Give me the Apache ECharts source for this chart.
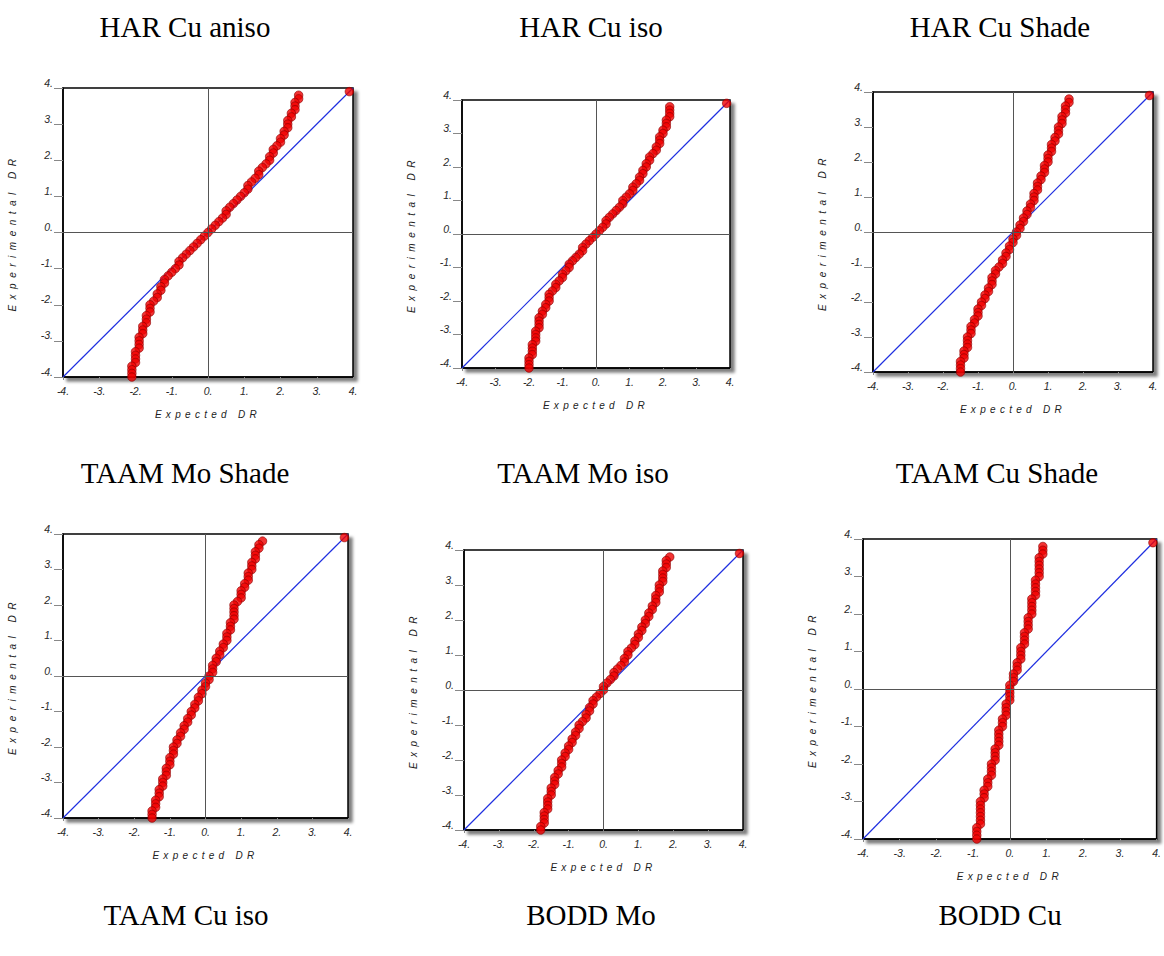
<!DOCTYPE html>
<html>
<head>
<meta charset="utf-8">
<script src="https://cdn.jsdelivr.net/npm/echarts@6/dist/echarts.min.js"></script>
<style>
  html, body { margin: 0; padding: 0; background: #fff; }
  #chart { width: 1164px; height: 956px; }
</style>
</head>
<body>
<div id="chart"></div>
<script>
// Normal probability plots: experimental vs expected DR, one panel per model.
const panelTitles = [
  'HAR Cu aniso', 'HAR Cu iso', 'HAR Cu Shade',
  'TAAM Mo Shade', 'TAAM Mo iso', 'TAAM Cu Shade',
  'TAAM Cu iso', 'BODD Mo', 'BODD Cu'
];

const axisTicks = [-4, -3, -2, -1, 0, 1, 2, 3, 4];
const xAxisName = 'Expected DR';
const yAxisName = 'Experimental DR';

// [expected, experimental]
const harCuAniso = [
  [2.5,3.8],[2.5,3.7],[2.4,3.6],[2.4,3.5],[2.4,3.4],[2.3,3.3],[2.3,3.2],[2.2,3.1],[2.2,3.0],[2.2,2.9],
  [2.1,2.8],[2.1,2.7],[2.0,2.6],[2.0,2.5],[1.9,2.4],[1.8,2.3],[1.8,2.2],[1.7,2.1],[1.7,2.0],[1.6,1.9],
  [1.5,1.8],[1.4,1.7],[1.4,1.6],[1.3,1.5],[1.2,1.4],[1.1,1.3],[1.1,1.2],[1.0,1.1],[0.9,1.0],[0.8,0.9],
  [0.7,0.8],[0.6,0.7],[0.5,0.6],[0.5,0.5],[0.4,0.4],[0.3,0.3],[0.2,0.2],[0.1,0.1],[0.0,0.0],[-0.1,-0.1],
  [-0.2,-0.2],[-0.3,-0.3],[-0.4,-0.4],[-0.5,-0.5],[-0.6,-0.6],[-0.7,-0.7],[-0.8,-0.8],[-0.8,-0.9],[-0.9,-1.0],[-1.0,-1.1],
  [-1.1,-1.2],[-1.2,-1.3],[-1.2,-1.4],[-1.3,-1.5],[-1.3,-1.6],[-1.4,-1.7],[-1.4,-1.8],[-1.5,-1.9],[-1.6,-2.0],[-1.6,-2.1],
  [-1.6,-2.2],[-1.7,-2.3],[-1.7,-2.4],[-1.7,-2.5],[-1.8,-2.6],[-1.8,-2.7],[-1.8,-2.8],[-1.9,-2.9],[-1.9,-3.0],[-1.9,-3.1],
  [-1.9,-3.2],[-2.0,-3.3],[-2.0,-3.4],[-2.0,-3.5],[-2.0,-3.6],[-2.1,-3.7],[-2.1,-3.8],[-2.1,-3.9],[-2.1,-4.0],
  [3.9,3.9]
];

const harCuIso = [
  [2.2,3.8],[2.2,3.7],[2.2,3.6],[2.2,3.5],[2.1,3.4],[2.1,3.3],[2.1,3.2],[2.0,3.1],[2.0,3.0],[1.9,2.9],
  [1.9,2.8],[1.9,2.7],[1.8,2.6],[1.8,2.5],[1.7,2.4],[1.6,2.3],[1.6,2.2],[1.5,2.1],[1.5,2.0],[1.4,1.9],
  [1.4,1.8],[1.3,1.7],[1.3,1.6],[1.2,1.5],[1.1,1.4],[1.1,1.3],[1.0,1.2],[0.9,1.1],[0.8,1.0],[0.8,0.9],
  [0.7,0.8],[0.6,0.7],[0.5,0.6],[0.4,0.5],[0.3,0.4],[0.3,0.3],[0.2,0.2],[0.1,0.1],[0.0,0.0],[-0.1,-0.1],
  [-0.2,-0.2],[-0.3,-0.3],[-0.4,-0.4],[-0.4,-0.5],[-0.5,-0.6],[-0.6,-0.7],[-0.7,-0.8],[-0.8,-0.9],[-0.8,-1.0],[-0.9,-1.1],
  [-1.0,-1.2],[-1.0,-1.3],[-1.1,-1.4],[-1.2,-1.5],[-1.2,-1.6],[-1.3,-1.7],[-1.4,-1.8],[-1.4,-1.9],[-1.4,-2.0],[-1.5,-2.1],
  [-1.5,-2.2],[-1.6,-2.3],[-1.6,-2.4],[-1.7,-2.5],[-1.7,-2.6],[-1.7,-2.7],[-1.7,-2.8],[-1.8,-2.9],[-1.8,-3.0],[-1.8,-3.1],
  [-1.8,-3.2],[-1.9,-3.3],[-1.9,-3.4],[-1.9,-3.5],[-1.9,-3.6],[-2.0,-3.7],[-2.0,-3.8],[-2.0,-3.9],[-2.0,-4.0],
  [3.9,3.9]
];

const harCuShade = [
  [1.6,3.8],[1.6,3.7],[1.5,3.6],[1.5,3.5],[1.5,3.4],[1.4,3.3],[1.4,3.2],[1.4,3.1],[1.3,3.0],[1.3,2.9],
  [1.3,2.8],[1.2,2.7],[1.2,2.6],[1.1,2.5],[1.1,2.4],[1.1,2.3],[1.0,2.2],[1.0,2.1],[1.0,2.0],[0.9,1.9],
  [0.9,1.8],[0.9,1.7],[0.8,1.6],[0.8,1.5],[0.7,1.4],[0.7,1.3],[0.7,1.2],[0.6,1.1],[0.6,1.0],[0.6,0.9],
  [0.5,0.8],[0.5,0.7],[0.4,0.6],[0.4,0.5],[0.3,0.4],[0.3,0.3],[0.2,0.2],[0.2,0.1],[0.1,0.0],[0.1,-0.1],
  [0.0,-0.2],[0.0,-0.3],[-0.1,-0.4],[-0.1,-0.5],[-0.2,-0.6],[-0.2,-0.7],[-0.3,-0.8],[-0.3,-0.9],[-0.4,-1.0],[-0.5,-1.1],
  [-0.5,-1.2],[-0.6,-1.3],[-0.6,-1.4],[-0.6,-1.5],[-0.7,-1.6],[-0.7,-1.7],[-0.8,-1.8],[-0.8,-1.9],[-0.9,-2.0],[-0.9,-2.1],
  [-1.0,-2.2],[-1.0,-2.3],[-1.0,-2.4],[-1.1,-2.5],[-1.1,-2.6],[-1.2,-2.7],[-1.2,-2.8],[-1.2,-2.9],[-1.3,-3.0],[-1.3,-3.1],
  [-1.3,-3.2],[-1.3,-3.3],[-1.4,-3.4],[-1.4,-3.5],[-1.4,-3.6],[-1.5,-3.7],[-1.5,-3.8],[-1.5,-3.9],[-1.5,-4.0],
  [3.9,3.9]
];

const taamMoShade = [
  [1.6,3.8],[1.5,3.7],[1.5,3.6],[1.4,3.5],[1.4,3.4],[1.4,3.3],[1.3,3.2],[1.3,3.1],[1.3,3.0],[1.2,2.9],
  [1.2,2.8],[1.2,2.7],[1.1,2.6],[1.1,2.5],[1.0,2.4],[1.0,2.3],[1.0,2.2],[0.9,2.1],[0.8,2.0],[0.8,1.9],
  [0.8,1.8],[0.8,1.7],[0.8,1.6],[0.7,1.5],[0.7,1.4],[0.7,1.3],[0.6,1.2],[0.6,1.1],[0.6,1.0],[0.5,0.9],
  [0.5,0.8],[0.4,0.7],[0.4,0.6],[0.3,0.5],[0.3,0.4],[0.2,0.3],[0.2,0.2],[0.2,0.1],[0.1,0.0],[0.1,-0.1],
  [0.0,-0.2],[0.0,-0.3],[-0.1,-0.4],[-0.1,-0.5],[-0.2,-0.6],[-0.2,-0.7],[-0.3,-0.8],[-0.3,-0.9],[-0.4,-1.0],[-0.4,-1.1],
  [-0.5,-1.2],[-0.5,-1.3],[-0.6,-1.4],[-0.6,-1.5],[-0.7,-1.6],[-0.7,-1.7],[-0.8,-1.8],[-0.8,-1.9],[-0.9,-2.0],[-0.9,-2.1],
  [-0.9,-2.2],[-1.0,-2.3],[-1.0,-2.4],[-1.0,-2.5],[-1.1,-2.6],[-1.1,-2.7],[-1.1,-2.8],[-1.2,-2.9],[-1.2,-3.0],[-1.2,-3.1],
  [-1.3,-3.2],[-1.3,-3.3],[-1.3,-3.4],[-1.4,-3.5],[-1.4,-3.6],[-1.4,-3.7],[-1.5,-3.8],[-1.5,-3.9],[-1.5,-4.0],
  [3.9,3.9]
];

const taamMoIso = [
  [1.9,3.8],[1.8,3.7],[1.8,3.6],[1.8,3.5],[1.7,3.4],[1.7,3.3],[1.7,3.2],[1.7,3.1],[1.6,3.0],[1.6,2.9],
  [1.6,2.8],[1.5,2.7],[1.5,2.6],[1.5,2.5],[1.4,2.4],[1.4,2.3],[1.3,2.2],[1.3,2.1],[1.2,2.0],[1.2,1.9],
  [1.1,1.8],[1.1,1.7],[1.0,1.6],[1.0,1.5],[0.9,1.4],[0.9,1.3],[0.8,1.2],[0.7,1.1],[0.7,1.0],[0.6,0.9],
  [0.6,0.8],[0.5,0.7],[0.4,0.6],[0.3,0.5],[0.3,0.4],[0.2,0.3],[0.1,0.2],[0.0,0.1],[0.0,0.0],[-0.1,-0.1],
  [-0.2,-0.2],[-0.3,-0.3],[-0.3,-0.4],[-0.4,-0.5],[-0.4,-0.6],[-0.5,-0.7],[-0.5,-0.8],[-0.6,-0.9],[-0.7,-1.0],[-0.7,-1.1],
  [-0.8,-1.2],[-0.8,-1.3],[-0.9,-1.4],[-0.9,-1.5],[-1.0,-1.6],[-1.0,-1.7],[-1.1,-1.8],[-1.1,-1.9],[-1.2,-2.0],[-1.2,-2.1],
  [-1.2,-2.2],[-1.3,-2.3],[-1.3,-2.4],[-1.4,-2.5],[-1.4,-2.6],[-1.4,-2.7],[-1.5,-2.8],[-1.5,-2.9],[-1.5,-3.0],[-1.6,-3.1],
  [-1.6,-3.2],[-1.6,-3.3],[-1.6,-3.4],[-1.7,-3.5],[-1.7,-3.6],[-1.7,-3.7],[-1.7,-3.8],[-1.8,-3.9],[-1.8,-4.0],
  [3.9,3.9]
];

const taamCuShade = [
  [0.9,3.8],[0.9,3.7],[0.9,3.6],[0.8,3.5],[0.8,3.4],[0.8,3.3],[0.8,3.2],[0.8,3.1],[0.8,3.0],[0.7,2.9],
  [0.7,2.8],[0.7,2.7],[0.7,2.6],[0.7,2.5],[0.6,2.4],[0.6,2.3],[0.6,2.2],[0.6,2.1],[0.6,2.0],[0.5,1.9],
  [0.5,1.8],[0.5,1.7],[0.5,1.6],[0.4,1.5],[0.4,1.4],[0.4,1.3],[0.4,1.2],[0.3,1.1],[0.3,1.0],[0.3,0.9],
  [0.3,0.8],[0.2,0.7],[0.2,0.6],[0.2,0.5],[0.1,0.4],[0.1,0.3],[0.1,0.2],[0.0,0.1],[0.0,0.0],[0.0,-0.1],
  [0.0,-0.2],[0.0,-0.3],[-0.1,-0.4],[-0.1,-0.5],[-0.1,-0.6],[-0.1,-0.7],[-0.2,-0.8],[-0.2,-0.9],[-0.2,-1.0],[-0.3,-1.1],
  [-0.3,-1.2],[-0.3,-1.3],[-0.3,-1.4],[-0.3,-1.5],[-0.4,-1.6],[-0.4,-1.7],[-0.4,-1.8],[-0.4,-1.9],[-0.5,-2.0],[-0.5,-2.1],
  [-0.5,-2.2],[-0.5,-2.3],[-0.6,-2.4],[-0.6,-2.5],[-0.6,-2.6],[-0.7,-2.7],[-0.7,-2.8],[-0.7,-2.9],[-0.8,-3.0],[-0.8,-3.1],
  [-0.8,-3.2],[-0.8,-3.3],[-0.8,-3.4],[-0.8,-3.5],[-0.8,-3.6],[-0.9,-3.7],[-0.9,-3.8],[-0.9,-3.9],[-0.9,-4.0],
  [3.9,3.9]
];

const panelData = [harCuAniso, harCuIso, harCuShade, taamMoShade, taamMoIso, taamCuShade];

// Layout of the six plot boxes and the nine captions (pixels)
const plotBoxes = [
  { left: 63,  top: 88,  width: 290, height: 289 },
  { left: 462, top: 100, width: 268, height: 268 },
  { left: 873, top: 92,  width: 280, height: 280 },
  { left: 63,  top: 534, width: 285, height: 284 },
  { left: 464, top: 550, width: 279, height: 280 },
  { left: 863, top: 539, width: 300, height: 300 }
];
const captionCenters = [
  [185, 12], [591, 12], [1000, 12],
  [185, 458], [583, 458], [997, 458],
  [186, 900], [591, 900], [1000, 900]
];

const tickFont = { fontFamily: 'Liberation Sans, Arial, sans-serif', fontStyle: 'italic', fontSize: 10.5, color: '#2a2a2a' };
const nameFont = { fontFamily: 'Liberation Sans, Arial, sans-serif', fontStyle: 'italic', fontSize: 10, color: '#222' };
const tickLabel = v => v + '.';

const grids = [], xAxes = [], yAxes = [], series = [];

plotBoxes.forEach((box, i) => {
  grids.push(Object.assign({
    show: true,
    backgroundColor: '#fff',
    borderColor: '#000',
    borderWidth: 1.5,
    shadowColor: 'rgba(0,0,0,0.5)',
    shadowBlur: 3,
    shadowOffsetX: 4,
    shadowOffsetY: 4,
    containLabel: false
  }, box));

  xAxes.push({
    gridIndex: i, type: 'value',
    min: axisTicks[0], max: axisTicks[axisTicks.length - 1], interval: 1,
    name: xAxisName, nameLocation: 'middle', nameGap: 32, nameTextStyle: nameFont,
    axisLine: { show: true, onZero: false, lineStyle: { color: '#000', width: 1.5 } },
    axisTick: { show: true, length: 3, lineStyle: { color: '#888' } },
    axisLabel: Object.assign({ margin: 8, formatter: tickLabel, showMinLabel: true, showMaxLabel: true }, tickFont),
    splitLine: { show: false }
  });

  yAxes.push({
    gridIndex: i, type: 'value',
    min: axisTicks[0], max: axisTicks[axisTicks.length - 1], interval: 1,
    name: yAxisName, nameLocation: 'middle', nameGap: 46, nameTextStyle: nameFont,
    axisLine: { show: true, onZero: false, lineStyle: { color: '#000', width: 1.5 } },
    axisTick: { show: true, length: 9, lineStyle: { color: '#888' } },
    axisLabel: Object.assign({ margin: 10, verticalAlign: 'bottom', formatter: tickLabel, showMinLabel: true, showMaxLabel: true }, tickFont),
    splitLine: { show: false }
  });

  // ideal y = x reference line, with the zero cross-hair
  series.push({
    type: 'line', xAxisIndex: i, yAxisIndex: i, z: 2,
    data: [[axisTicks[0], axisTicks[0]], [axisTicks[axisTicks.length - 1], axisTicks[axisTicks.length - 1]]],
    symbol: 'none', silent: true,
    color: '#1f2fe0',
    lineStyle: { color: '#1f2fe0', width: 1.2 },
    markLine: {
      silent: true, symbol: ['none', 'none'], label: { show: false },
      lineStyle: { color: '#555', width: 1, type: 'solid' },
      data: [{ xAxis: 0 }, { yAxis: 0 }]
    }
  });

  series.push({
    type: 'scatter', xAxisIndex: i, yAxisIndex: i, z: 3,
    data: panelData[i],
    symbol: 'circle', symbolSize: 8.5,
    itemStyle: { color: '#f00000', borderColor: '#8a0000', borderWidth: 0.8 }
  });
});

const titles = panelTitles.map((t, i) => ({
  text: t,
  left: captionCenters[i][0],
  top: captionCenters[i][1],
  textAlign: 'center',
  padding: 0,
  textStyle: { fontFamily: 'Liberation Serif, Times New Roman, serif', fontSize: 29, fontWeight: 'normal', color: '#000' }
}));

const chart = echarts.init(document.getElementById('chart'), null, { renderer: 'svg' });
chart.setOption({
  animation: false,
  backgroundColor: '#fff',
  title: titles,
  grid: grids,
  xAxis: xAxes,
  yAxis: yAxes,
  series: series
});

// spaced-out lettering for the axis names
function spaceAxisNames() {
  document.querySelectorAll('#chart svg text').forEach(el => {
    const s = el.textContent;
    if (s === xAxisName) { el.style.letterSpacing = '4.3px'; }
    else if (s === yAxisName) { el.style.letterSpacing = '5.5px'; }
  });
}
chart.on('finished', spaceAxisNames);
spaceAxisNames();
setTimeout(spaceAxisNames, 0);
setTimeout(spaceAxisNames, 200);
</script>
</body>
</html>
